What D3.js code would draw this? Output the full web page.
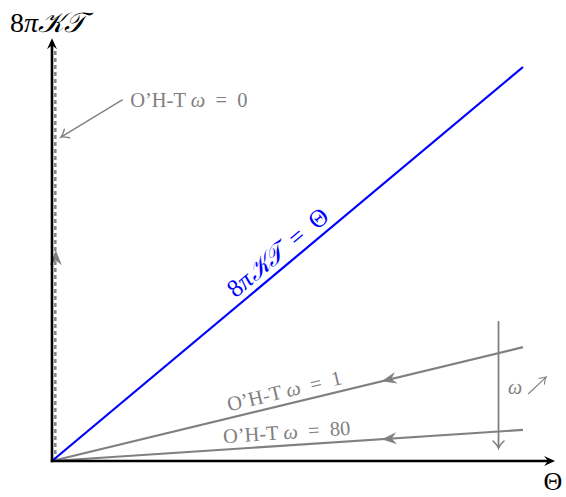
<!DOCTYPE html>
<html>
<head>
<meta charset="utf-8">
<script src="https://cdn.jsdelivr.net/npm/d3@7"></script>
<style>
  body { margin: 0; background: #fff; }
  svg { display: block; font-family: "Liberation Serif", "DejaVu Serif", serif; }
</style>
</head>
<body>
<svg id="chart"></svg>
<script>
// data (theta on x, 8*pi*K*T on y, both normalised so the blue line ends at 1,1)
const thetaEnds = [0, 1];
const blueKT = [0, 1];
const oht1KT = [0, 0.289];
const oht80KT = [0, 0.079];
const oht0Theta = 0.007;
const oht0KT = [0, 1.043];
const axisMax = [1.068, 1.073];      // theta, KT where the axis arrows stop
const midArrowTheta = 0.70;           // where the backward arrows sit on the omega lines
const oht0ArrowKT = 0.535;
const labelTheta = 0.5;

// annotation for omega = 0 (data coords)
const omega0Pointer = [[0.15, 0.917], [0.019, 0.822]];
const omega0LabelAt = [0.166, 0.917];
// omega increasing marker
const omegaBar = [0.948, 0.355, 0.033];   // theta, top KT, bottom KT
const omegaSymbolAt = [0.983, 0.188];
const omegaUpArrow = [[1.011, 0.170], [1.049, 0.213]];

const W = 566, H = 497;
const gray = "#808080";
const blue = "#0000ff";
const eq = "\u2002=\u2002";

const svg = d3.select("#chart").attr("width", W).attr("height", H);

const x = d3.scaleLinear().domain([0, 1]).range([52, 523]);
const y = d3.scaleLinear().domain([0, 1]).range([461, 67]);

const line = d3.line().x(d => x(d[0])).y(d => y(d[1]));

// arrow head drawn at a point, pointing at angle (radians)
function stealth(px, py, ang, len, half, notch, color) {
  svg.append("path")
    .attr("d", `M0,0L${-len},${-half}L${-notch},0L${-len},${half}Z`)
    .attr("fill", color)
    .attr("transform", `translate(${px},${py}) rotate(${ang * 180 / Math.PI})`);
}
function openHead(px, py, ang, len, half, color, sw) {
  svg.append("path")
    .attr("d", `M${-len},${-half}Q${-len * 0.35},${-half * 0.15} 0,0Q${-len * 0.35},${half * 0.15} ${-len},${half}`)
    .attr("fill", "none")
    .attr("stroke", color)
    .attr("stroke-width", sw)
    .attr("stroke-linecap", "round")
    .attr("transform", `translate(${px},${py}) rotate(${ang * 180 / Math.PI})`);
}
function ohtLabel(t, lab) {
  t.append("tspan").text("O\u2019H-T ");
  t.append("tspan").attr("font-style", "italic").text("\u03c9");
  t.append("tspan").text(eq + lab);
}

// omega = 0 dashed line
svg.append("path")
  .attr("d", line([[oht0Theta, oht0KT[0]], [oht0Theta, oht0KT[1]]]))
  .attr("stroke", "#8a8a8a")
  .attr("stroke-width", 2.6)
  .attr("stroke-dasharray", "4,3")
  .attr("fill", "none");
stealth(x(oht0Theta) + 0.5, y(oht0ArrowKT), -Math.PI / 2, 15, 6, 10, gray);

// omega = 1 and omega = 80 lines with arrows pointing back toward origin
[[oht1KT, "1"], [oht80KT, "80"]].forEach(([kt, lab]) => {
  const pts = thetaEnds.map((t, i) => [t, kt[i]]);
  svg.append("path")
    .attr("d", line(pts))
    .attr("stroke", gray)
    .attr("stroke-width", 2.2)
    .attr("fill", "none");
  const ang = Math.atan2(y(kt[1]) - y(kt[0]), x(1) - x(0));
  const slope = (kt[1] - kt[0]) / (thetaEnds[1] - thetaEnds[0]);
  stealth(x(midArrowTheta), y(midArrowTheta * slope), ang + Math.PI, 15, 6, 10, gray);

  const lx = x(labelTheta), ly = y(labelTheta * slope);
  const off = 13.5;
  svg.append("text")
    .attr("transform", `translate(${lx + Math.sin(ang) * off},${ly - Math.cos(ang) * off}) rotate(${ang * 180 / Math.PI})`)
    .attr("text-anchor", "middle")
    .attr("dominant-baseline", "central")
    .attr("fill", gray)
    .attr("font-size", 20.5)
    .call(t => ohtLabel(t, lab));
});

// blue line 8piKT = Theta
svg.append("path")
  .attr("d", line(thetaEnds.map((t, i) => [t, blueKT[i]])))
  .attr("stroke", blue)
  .attr("stroke-width", 2.2)
  .attr("fill", "none");
{
  const ang = Math.atan2(y(blueKT[1]) - y(blueKT[0]), x(1) - x(0));
  const lx = x(labelTheta), ly = y(labelTheta);
  const off = 16;
  svg.append("text")
    .attr("transform", `translate(${lx + Math.sin(ang) * off},${ly - Math.cos(ang) * off}) rotate(${ang * 180 / Math.PI})`)
    .attr("text-anchor", "middle")
    .attr("dominant-baseline", "central")
    .attr("fill", blue)
    .attr("font-size", 25)
    .call(t => {
      t.append("tspan").text("8");
      t.append("tspan").attr("font-style", "italic").text("\u03c0\ud835\udca6\ud835\udcaf");
      t.append("tspan").text(eq + "\u0398");
    });
}

// axes
svg.append("line")
  .attr("x1", x(0) - 1.2).attr("y1", y(0))
  .attr("x2", x(axisMax[0]) - 4).attr("y2", y(0))
  .attr("stroke", "#000").attr("stroke-width", 2.6);
stealth(x(axisMax[0]), y(0), 0, 11, 5, 7, "#000");
svg.append("line")
  .attr("x1", x(0)).attr("y1", y(0) + 1.2)
  .attr("x2", x(0)).attr("y2", y(axisMax[1]) + 4)
  .attr("stroke", "#000").attr("stroke-width", 2.6);
stealth(x(0), y(axisMax[1]), -Math.PI / 2, 11, 5, 7, "#000");

svg.append("text")
  .attr("x", 10).attr("y", 32)
  .attr("font-size", 28)
  .call(t => {
    t.append("tspan").text("8");
    t.append("tspan").attr("font-style", "italic").text("\u03c0\ud835\udca6\ud835\udcaf");
  });
svg.append("text")
  .attr("x", 553).attr("y", 490)
  .attr("text-anchor", "middle")
  .attr("font-size", 26)
  .text("\u0398");

// omega = 0 pointer
{
  const [a, b] = omega0Pointer;
  svg.append("line")
    .attr("x1", x(a[0])).attr("y1", y(a[1]))
    .attr("x2", x(b[0])).attr("y2", y(b[1]))
    .attr("stroke", gray).attr("stroke-width", 1.4);
  const ang = Math.atan2(y(b[1]) - y(a[1]), x(b[0]) - x(a[0]));
  openHead(x(b[0]), y(b[1]), ang, 7, 5, gray, 1.4);
  svg.append("text")
    .attr("x", x(omega0LabelAt[0])).attr("y", y(omega0LabelAt[1]))
    .attr("dominant-baseline", "central")
    .attr("fill", gray)
    .attr("font-size", 20.5)
    .call(t => ohtLabel(t, "0"));
}

// omega increases marker
svg.append("line")
  .attr("x1", x(omegaBar[0])).attr("y1", y(omegaBar[1]))
  .attr("x2", x(omegaBar[0])).attr("y2", y(omegaBar[2]))
  .attr("stroke", gray).attr("stroke-width", 1.8);
openHead(x(omegaBar[0]), y(omegaBar[2]), Math.PI / 2, 7, 5.5, gray, 1.6);
svg.append("text")
  .attr("x", x(omegaSymbolAt[0])).attr("y", y(omegaSymbolAt[1]))
  .attr("text-anchor", "middle")
  .attr("dominant-baseline", "central")
  .attr("fill", gray)
  .attr("font-size", 20)
  .attr("font-style", "italic")
  .text("\u03c9");
{
  const [a, b] = omegaUpArrow;
  svg.append("line")
    .attr("x1", x(a[0])).attr("y1", y(a[1]))
    .attr("x2", x(b[0])).attr("y2", y(b[1]))
    .attr("stroke", gray).attr("stroke-width", 1.1);
  const ang = Math.atan2(y(b[1]) - y(a[1]), x(b[0]) - x(a[0]));
  openHead(x(b[0]), y(b[1]), ang, 6, 4, gray, 1.1);
}
</script>
</body>
</html>
